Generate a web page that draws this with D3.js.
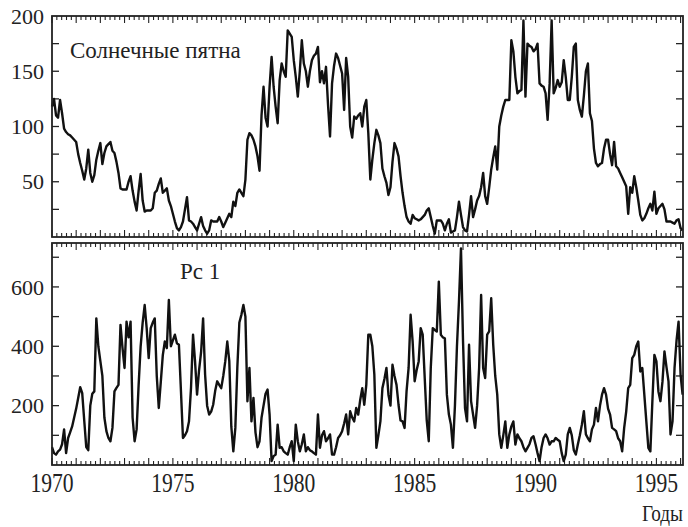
<!DOCTYPE html>
<html>
<head>
<meta charset="utf-8">
<script src="https://cdn.jsdelivr.net/npm/d3@7"></script>
<style>
  body { margin: 0; background: #fff; }
  svg { display: block; }
</style>
</head>
<body>
<div id="canvas"></div>
<script>
var w = 688;
var h = 527;

// monthly values, starting January 1970 (one row per year)
var sunspots = [
  118,125,110,108,124,112, 98, 95, 93, 92, 90, 88,   // 1970
   86, 75, 67, 60, 52, 62, 79, 58, 50, 56, 70, 78,   // 1971
   85, 66, 76, 82, 84, 86, 78, 76, 68, 58, 44, 43,   // 1972
   43, 43, 50, 55, 42, 32, 24, 42, 57, 33, 23, 24,   // 1973
   24, 24, 26, 40, 42, 48, 53, 40, 42, 44, 33, 28,   // 1974
   21, 14,  8,  6,  9, 14, 25, 36, 15, 14, 12,  9,   // 1975
    6, 12, 18, 10,  6,  3,  6, 15, 14, 14, 14, 18,   // 1976
   14,  9, 13, 17, 21, 18, 32, 28, 40, 43, 40, 37,   // 1977
   52, 88, 94, 92, 88, 82, 73, 60,110,136,108,100,   // 1978
  136,163,136,118,103,142,157,150,145,187,184,181,   // 1979
  160,145,127,150,178,157,150,136,150,160,164,166,   // 1980
  172,140,150,139,154,120, 91,139,155,166,162,155,   // 1981
  148,115,162,145,100, 90,109,107,110,112,100,118,   // 1982
  124, 94, 52, 70, 85, 97, 92, 85, 62, 55, 49, 38,   // 1983
   45, 68, 85, 80, 73, 55, 40, 28, 18, 14, 12, 20,   // 1984
   17, 16, 15, 16, 18, 20, 24, 26, 18, 10,  3, 15,   // 1985
   15, 15, 12,  6, 12, 16,  4,  5,  6, 18, 32, 20,   // 1986
    9,  6,  5, 20, 37, 18, 25, 33, 37, 45, 58, 37,   // 1987
   30, 45, 61, 72, 82, 61,100,110,118,124,124,124,   // 1988
  178,168,145,130,132,133,196,127,175,173,172,168,   // 1989
  170,175,139,137,136,130,106,139,196,130,135,142,   // 1990
  136,140,160,145,124,124,145,172,175,124,115,109,   // 1991
  128,150,157,112,105, 80, 67, 64, 66, 67, 80, 88,   // 1992
   88, 75, 65, 86, 64, 62, 58, 54, 50, 46, 21, 45,   // 1993
   40, 55, 45, 33, 20, 15, 17, 21, 26, 30, 24, 41,   // 1994
   21, 26, 28, 30, 25, 14, 14, 14, 13, 12, 15, 16,   // 1995
    8,  6                                            // 1996
];

var pc1 = [
   60, 40, 35, 46, 52, 70,120, 40, 91,110,130,160,   // 1970
  190,226,262,242,150, 60, 50,200,240,248,494,400,   // 1971
  350,300,160,114, 91, 80,125,248,260,270,472,394,   // 1972
  327,483,430,483,160, 80,120,270,400,480,539,460,   // 1973
  360,461,480,494,300,192,280,370,416,394,556,400,   // 1974
  420,439,410,405,250, 91,100,114,147,260,439,349,   // 1975
  237,320,380,494,304,200,170,180,203,250,282,270,   // 1976
  259,300,349,416,350,130, 46,125,330,480,506,539,   // 1977
  500,215,327,147,226,110, 60, 80,159,200,240,254,   // 1978
  170, 13, 30, 35,136, 58, 60, 46, 40, 35, 60, 80,   // 1979
   13,136, 80, 46, 70,103, 46, 60, 50, 46, 40, 35,   // 1980
  170, 58,100,114, 80, 90,103, 35, 35, 60, 91,100,   // 1981
  114,140,170,103,181,160,147,192,170,220,259,203,   // 1982
  270,439,439,400,304, 58,100,147,259,290,327,237,   // 1983
  200,338,300,270,203,150,147,125,250,327,506,416,   // 1984
  282,320,349,461,439,293,150, 80,327,461,455,450,   // 1985
  618,439,430,427,237,170,136, 58,200,400,551,730,   // 1986
  420,192,147,405,215,170,125,200,327,573,327,293,   // 1987
  439,450,562,405,300,237,103, 58,100,147, 58,103,   // 1988
  130,147, 69,103, 90, 80, 60, 46, 58, 70, 91, 97,   // 1989
   70, 40, 13, 60, 91,103, 90, 69, 80, 80, 91, 85,   // 1990
   80, 40, 13, 35,103,125,100, 50, 35, 69,100,136,   // 1991
  181,103, 90, 80,120,136,192,147,200,237,259,237,   // 1992
  190,170,125,120,114, 90, 80, 46,125,180,259,270,   // 1993
  360,371,400,416,315,327,237,147, 58, 46,215,371,   // 1994
  349,248,215,280,383,330,282,103,147,327,420,483,   // 1995
  304,237                                            // 1996
];

var yearTicks = [1970, 1975, 1980, 1985, 1990, 1995];
var sunTicks = [50, 100, 150, 200];
var pcTicks = [200, 400, 600];
var sunLabel = "Солнечные пятна";
var pcLabel = "Pc 1";
var xLabel = "Годы";

var left = 52, right = 683;
var panels = [
  { data: sunspots, top: 16, bottom: 237, max: 200, minor: 25, ticks: sunTicks, label: sunLabel, lx: 70, ly: 58 },
  { data: pc1, top: 243, bottom: 465, max: 748, minor: 100, ticks: pcTicks, label: pcLabel, lx: 180, ly: 279 }
];

var canvas = d3.select("#canvas")
  .append("svg")
  .attr("width", w)
  .attr("height", h)
  .style("font-family", "'Liberation Serif', 'DejaVu Serif', serif");

var x = d3.scaleLinear().domain([1970, 1996.1]).range([left, right]);

panels.forEach(function(p) {
  var y = d3.scaleLinear().domain([0, p.max]).range([p.bottom, p.top]);
  var g = canvas.append("g");

  // x ticks inside, yearly long and fifths of a year short
  var xt = d3.range(1970, 1996.11, 0.2);
  [[p.top, 1], [p.bottom, -1]].forEach(function(edge) {
    g.selectAll(null)
      .data(xt)
      .join("line")
      .attr("x1", function(d) { return x(d); })
      .attr("x2", function(d) { return x(d); })
      .attr("y1", edge[0])
      .attr("y2", function(d) {
        var major = Math.abs(d - Math.round(d)) < 0.01;
        return edge[0] + edge[1] * (major ? 7 : 4);
      })
      .attr("stroke", "#222")
      .attr("stroke-width", 1.1);
  });

  // y ticks inside, both sides
  var yt = d3.range(p.minor, p.max, p.minor);
  [[left, 1], [right, -1]].forEach(function(edge) {
    g.selectAll(null)
      .data(yt)
      .join("line")
      .attr("x1", edge[0])
      .attr("x2", edge[0] + edge[1] * 7)
      .attr("y1", function(d) { return y(d); })
      .attr("y2", function(d) { return y(d); })
      .attr("stroke", "#222")
      .attr("stroke-width", 1.3);
  });

  g.selectAll(null)
    .data(p.ticks)
    .join("text")
    .attr("x", 44)
    .attr("y", function(d) { return y(d); })
    .attr("dy", "0.35em")
    .attr("text-anchor", "end")
    .attr("fill", "#222")
    .style("font-size", "22px")
    .text(function(d) { return d; });

  var line = d3.line()
    .x(function(d, i) { return x(1970 + i / 12); })
    .y(function(d) { return y(Math.min(d, p.max)); });

  g.append("path")
    .datum(p.data)
    .attr("d", line)
    .attr("fill", "none")
    .attr("stroke", "#111")
    .attr("stroke-width", 2.4)
    .attr("stroke-linejoin", "round");

  g.append("rect")
    .attr("x", left)
    .attr("y", p.top)
    .attr("width", right - left)
    .attr("height", p.bottom - p.top)
    .attr("fill", "none")
    .attr("stroke", "#222")
    .attr("stroke-width", 1.8);

  g.append("text")
    .attr("x", p.lx)
    .attr("y", p.ly)
    .attr("fill", "#222")
    .style("font-size", "23px")
    .text(p.label);
});

// year labels, tall and narrow like the original
yearTicks.forEach(function(yr) {
  canvas.append("text")
    .attr("transform", "translate(" + x(yr) + ",492) scale(0.8,1)")
    .attr("text-anchor", "middle")
    .attr("fill", "#222")
    .style("font-size", "27px")
    .text(yr);
});

canvas.append("text")
  .attr("transform", "translate(683,521) scale(0.8,1)")
  .attr("text-anchor", "end")
  .attr("fill", "#222")
  .style("font-size", "24px")
  .text(xLabel);
</script>
</body>
</html>
